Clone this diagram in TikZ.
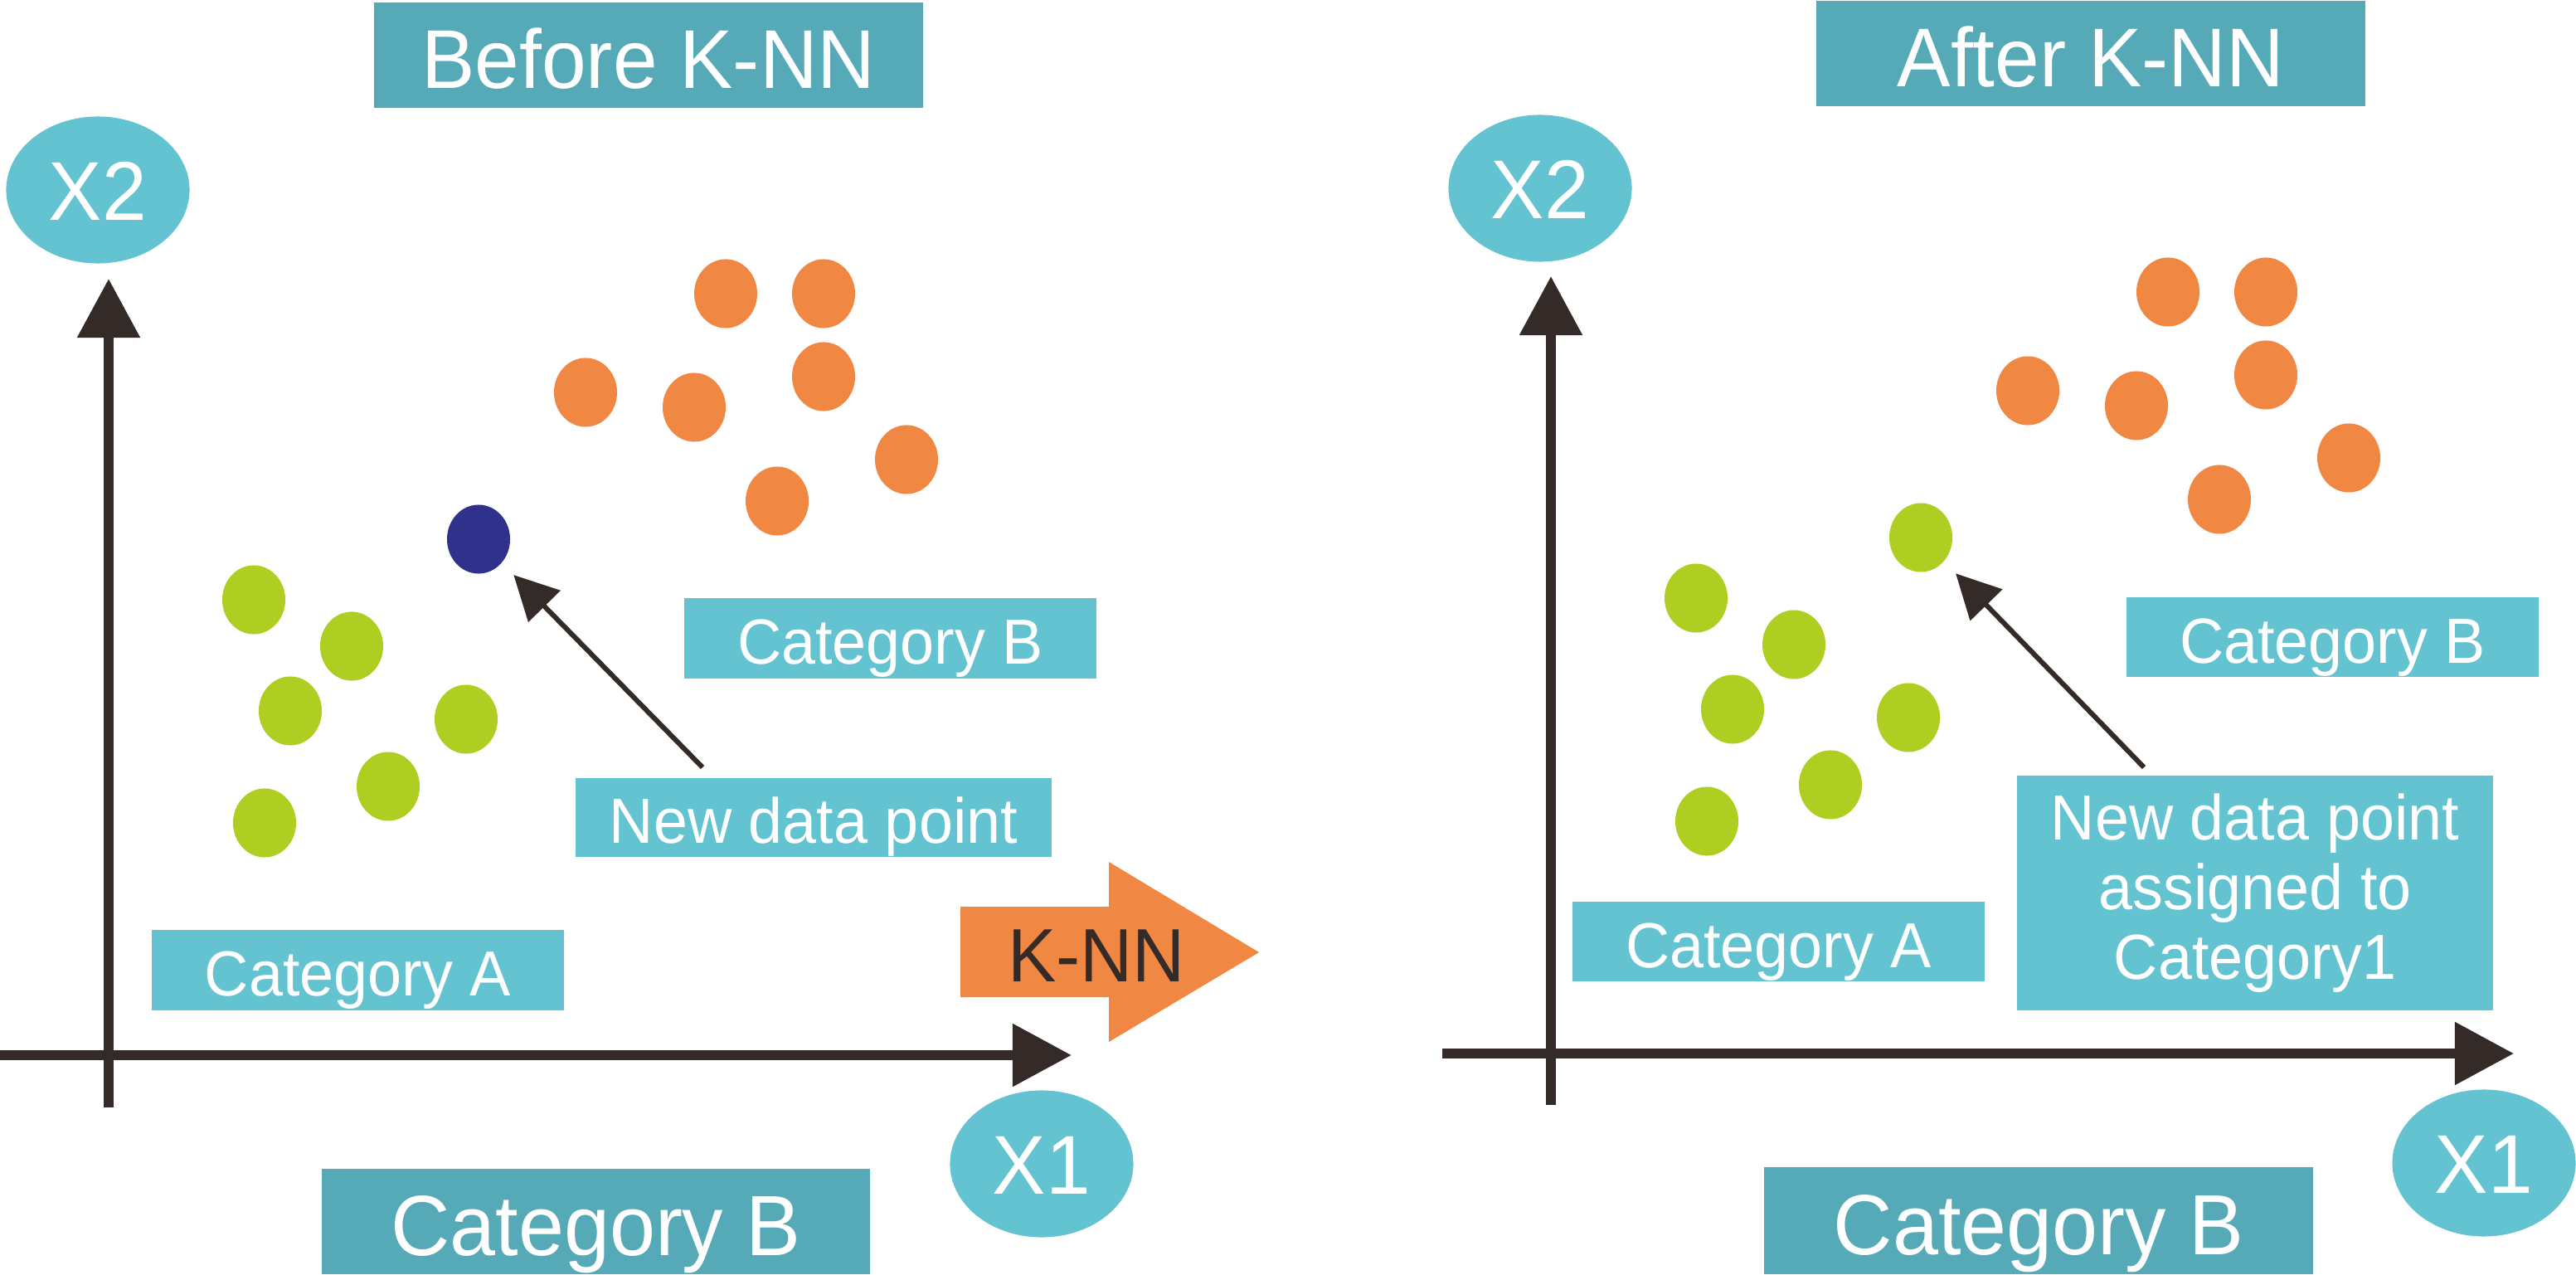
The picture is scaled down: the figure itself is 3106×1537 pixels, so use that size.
\documentclass[tikz,border=0pt]{standalone}
\usepackage{fontspec}
\setmainfont[FakeStretch=0.96]{Liberation Sans}
\usetikzlibrary{shapes.geometric,arrows.meta}
\definecolor{tealdark}{HTML}{56A9B7}
\definecolor{teallight}{HTML}{63C3D0}
\definecolor{dotorange}{HTML}{F08844}
\definecolor{dotgreen}{HTML}{AECF21}
\definecolor{dotnavy}{HTML}{30318A}
\definecolor{inkdark}{HTML}{342B29}
\newcommand{\fTitle}{\fontsize{28.6}{34}\selectfont}
\newcommand{\fLab}{\fontsize{21.85}{23.9}\selectfont}
\newcommand{\fKnn}{\fontsize{25.9}{30}\selectfont}
\newcommand{\fBig}{\fontsize{29.3}{35}\selectfont}
\begin{document}
\begin{tikzpicture}[x=0.01cm,y=-0.01cm,
  titlebox/.style={rectangle, fill=tealdark, inner sep=0pt, text=white, font=\fTitle,
    minimum width=6.62cm, minimum height=1.27cm, text height=0.79cm, text depth=0pt},
  bigbox/.style={rectangle, fill=tealdark, inner sep=0pt, text=white, font=\fBig,
    minimum width=6.61cm, minimum height=1.27cm, text height=0.81cm, text depth=0pt},
  labfill/.style={rectangle, fill=teallight, inner sep=0pt, text=white, font=\fLab},
  labbox/.style={labfill, minimum width=4.97cm, minimum height=0.97cm, text height=0.62cm, text depth=0pt},
  axislabel/.style={ellipse, fill=teallight, inner sep=0pt, text=white, font=\fTitle,
    minimum width=2.21cm, minimum height=1.77cm, text height=0.72cm, text depth=0pt},
  dot/.style={ellipse, inner sep=0pt, minimum width=0.76cm, minimum height=0.83cm},
  axis/.style={draw=inkdark, line width=0.12cm, -{Triangle[length=0.71cm,width=0.73cm]}},
  pointer/.style={draw=inkdark, line width=0.06cm, -{Triangle[length=0.53cm,width=0.53cm]}, shorten >=0.2cm}]
\useasboundingbox (0,0) rectangle (3106,1537);

% ---------------- Left panel ----------------
\node[titlebox] (tL) at (782,66.5) {Before K-NN};
\node[axislabel] (x2L) at (118,229) {X2};
\coordinate (vL0) at (131,1335);
\coordinate (vL1) at (131,336);
\draw[axis] (vL0) -- (vL1);
\coordinate (hL0) at (0,1272);
\coordinate (hL1) at (1292,1272);
\draw[axis] (hL0) -- (hL1);
\node[axislabel] (x1L) at (1256,1403) {X1};

\foreach \x/\y [count=\i] in {875/354,993/354,706/473,837/491,993/454,1093/554,937/604}
  \node[dot, fill=dotorange] (oL\i) at (\x,\y) {};
\foreach \x/\y [count=\i] in {306/723,424/779,350/857,562/867,468/948,319/992}
  \node[dot, fill=dotgreen] (gL\i) at (\x,\y) {};
\node[dot, fill=dotnavy] (navy) at (577,650) {};

\node[labbox] (cbL) at (1073.5,769.5) {Category B};
\node[labbox] (caL) at (431.5,1169.5) {Category A};
\node[labbox, minimum width=5.74cm, minimum height=0.95cm] (ndL) at (981,985.5) {New data point};
\coordinate (pL) at (847,925);
\draw[pointer] (pL) -- (navy);

\fill[dotorange] (1158,1093) -- (1337,1093) -- (1337,1039) -- (1518,1148) -- (1337,1256) -- (1337,1202) -- (1158,1202) -- cycle;
\node[text=inkdark, font=\fKnn, inner sep=0pt, text height=0.65cm, text depth=0pt] (knn) at (1322,1150.5) {K-NN};

\node[bigbox] (bbL) at (718.5,1472.5) {Category B};

% ---------------- Right panel ----------------
\node[titlebox] (tR) at (2521,64.5) {After K-NN};
\node[axislabel] (x2R) at (1857,227) {X2};
\coordinate (vR0) at (1870,1332);
\coordinate (vR1) at (1870,333);
\draw[axis] (vR0) -- (vR1);
\coordinate (hR0) at (1739,1270);
\coordinate (hR1) at (3031,1270);
\draw[axis] (hR0) -- (hR1);
\node[axislabel] (x1R) at (2995,1402) {X1};

\foreach \x/\y [count=\i] in {875/354,993/354,706/473,837/491,993/454,1093/554,937/604}
  \node[dot, fill=dotorange] (oR\i) at (\x+1739,\y-2) {};
\foreach \x/\y [count=\i] in {306/723,424/779,350/857,562/867,468/948,319/992}
  \node[dot, fill=dotgreen] (gR\i) at (\x+1739,\y-2) {};
\node[dot, fill=dotgreen] (gnew) at (2316,648) {};

\node[labbox, minimum height=0.96cm] (cbR) at (2812.5,768) {Category B};
\node[labbox, minimum height=0.96cm] (caR) at (2144.5,1135) {Category A};
\node[labfill, minimum width=5.74cm, minimum height=2.83cm, align=center] (ndR) at (2719,1076.5)
  {New data point\\assigned to\\Category1};
\coordinate (pR) at (2585,925);
\draw[pointer] (pR) -- (gnew);

\node[bigbox, minimum width=6.62cm, minimum height=1.29cm] (bbR) at (2458,1471.5) {Category B};
\end{tikzpicture}
\end{document}
